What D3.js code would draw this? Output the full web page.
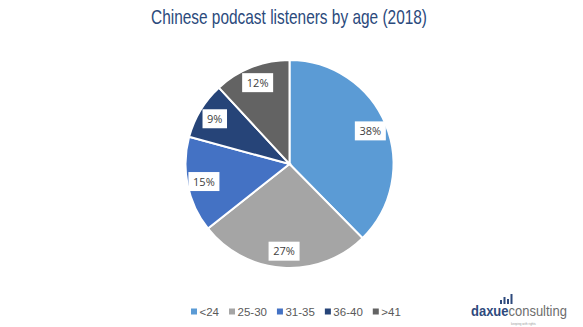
<!DOCTYPE html>
<html>
<head>
<meta charset="utf-8">
<script src="https://cdn.jsdelivr.net/npm/d3@7"></script>
<style>
  html, body { margin: 0; padding: 0; background: #fff; }
  svg { display: block; }
</style>
</head>
<body>
<svg id="chart" width="583" height="327"></svg>
<script>
// Age groups and listener shares (%)
const categories = ["<24", "25-30", "31-35", "36-40", ">41"];
const shares = [38, 27, 15, 9, 12];
const colors = ["#5B9BD5", "#A5A5A5", "#4472C4", "#264478", "#636363"];
const titleText = "Chinese podcast listeners by age (2018)";

const svg = d3.select("#chart");
const cx = 289.5, cy = 164, R = 104;

// Condensed title: squeeze a regular sans into a narrow width
svg.append("text")
  .attr("x", 151).attr("y", 24)
  .attr("textLength", 276)
  .attr("lengthAdjust", "spacingAndGlyphs")
  .attr("font-family", "'Liberation Sans', Arial, sans-serif")
  .attr("font-size", 21)
  .attr("fill", "#2B4A7C")
  .text(titleText);

const data = categories.map((c, i) => ({ cat: c, value: shares[i], color: colors[i] }));
const pie = d3.pie().value(d => d.value).sort(null);
const arcs = pie(data);
const arc = d3.arc().innerRadius(0).outerRadius(R);
const labelArc = d3.arc().innerRadius(R * 0.84).outerRadius(R * 0.84);

const g = svg.append("g").attr("transform", `translate(${cx},${cy})`);
g.selectAll("path.slice")
  .data(arcs)
  .join("path")
  .attr("class", "slice")
  .attr("d", arc)
  .attr("fill", d => d.data.color)
  .attr("stroke", "#fff")
  .attr("stroke-width", 2);

const labels = g.selectAll("g.lbl")
  .data(arcs)
  .join("g")
  .attr("class", "lbl")
  .attr("transform", d => `translate(${labelArc.centroid(d)})`);

labels.append("rect")
  .attr("x", d => -(String(d.data.value).length * 6.5 + 18) / 2)
  .attr("y", -9.5)
  .attr("width", d => String(d.data.value).length * 6.5 + 18)
  .attr("height", 19)
  .attr("fill", "#fff");

labels.append("text")
  .attr("text-anchor", "middle")
  .attr("dy", "0.36em")
  .attr("font-family", "'Open Sans', 'Liberation Sans', sans-serif")
  .attr("font-size", 11)
  .attr("fill", "#404040")
  .text(d => d.data.value + "%");

// Legend
const legend = svg.append("g").attr("transform", "translate(0,312)");
const legendFont = "'Liberation Sans', Arial, sans-serif";
let lx = 191;
const itemGap = 10;
categories.forEach((c, i) => {
  const item = legend.append("g").attr("transform", `translate(${lx},0)`);
  item.append("rect").attr("x", 0).attr("y", -3.5).attr("width", 6).attr("height", 6).attr("fill", colors[i]);
  const t = item.append("text")
    .attr("x", 8.5).attr("y", 0).attr("dy", "0.35em")
    .attr("font-family", legendFont)
    .attr("font-size", 11.5)
    .attr("fill", "#595959")
    .text(c);
  lx += 8.5 + t.node().getComputedTextLength() + itemGap;
});

// Brand mark: bar glyph, two-tone wordmark, tiny tagline
const logo = svg.append("g").attr("transform", "translate(471,316)");
[[0, 4], [3.5, 7], [7, 5], [10.5, 10]].forEach(([x, h]) => {
  logo.append("rect").attr("x", 29 + x).attr("y", -12 - h).attr("width", 2).attr("height", h).attr("fill", "#2E4A7D");
});
const word = logo.append("g").attr("transform", "scale(0.865,1)");
const w1 = word.append("text")
  .attr("font-family", "'Liberation Sans', Arial, sans-serif")
  .attr("font-size", 15)
  .attr("font-weight", "bold")
  .attr("fill", "#2E4A7D")
  .text("daxue");
word.append("text")
  .attr("x", w1.node().getComputedTextLength())
  .attr("font-family", "'Liberation Sans', Arial, sans-serif")
  .attr("font-size", 15)
  .attr("fill", "#6D6D6D")
  .text("consulting");
logo.append("text")
  .attr("x", 40).attr("y", 9)
  .attr("font-family", "'Liberation Sans', Arial, sans-serif")
  .attr("font-size", 3)
  .attr("fill", "#999")
  .text("keeping with rights");
</script>
</body>
</html>
